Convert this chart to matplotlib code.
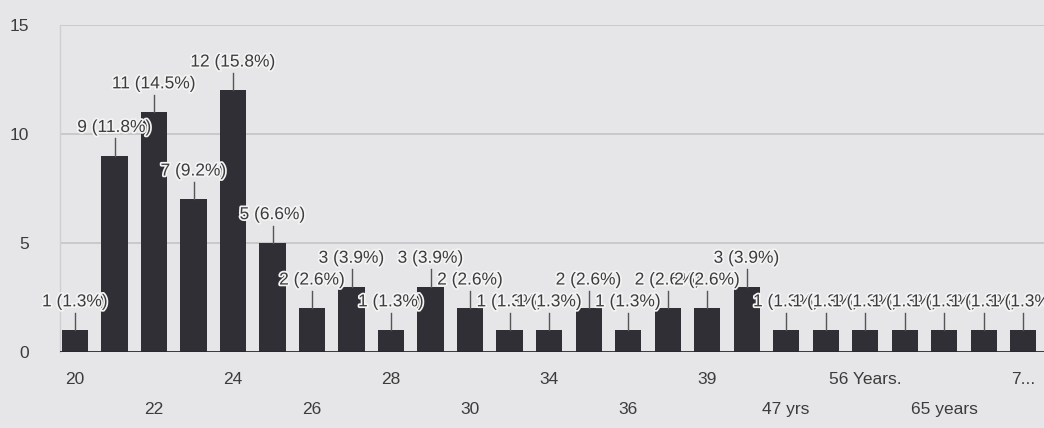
import matplotlib
matplotlib.use("Agg")
import matplotlib.pyplot as plt
import matplotlib.patheffects as pe

# Data
tick_labels = ["20", "22", "24", "26", "28", "30", "34", "36", "39",
               "47 yrs", "56 Years.", "65 years", "7..."]
counts = [1, 9, 11, 7, 12, 5, 2, 3, 1, 3, 2, 1, 1, 2, 1, 2, 2, 3,
          1, 1, 1, 1, 1, 1, 1]
total_responses = 76
y_ticks = [0, 5, 10, 15]

plt.rcParams['font.family'] = ['Liberation Sans', 'DejaVu Sans']

bg = "#e6e6e8"
txt = "#3c3c3c"
bar_col = "#2f2f35"

fig = plt.figure(figsize=(10.44, 4.28), dpi=100, facecolor=bg)
ax = fig.add_axes([60/1044, 76/428, (1044-60)/1044, (352-25)/428])
ax.set_facecolor(bg)

x = list(range(len(counts)))
ax.bar(x, counts, width=0.66, color=bar_col, zorder=3)

ax.set_xlim(-0.38, 24.53)
ax.set_ylim(0, 15)

# gridlines
for yv in y_ticks[1:]:
    ax.axhline(yv, color="#c4c4c6", lw=1.2, zorder=1)
ax.axhline(0, color="#2a2a2a", lw=2.0, zorder=4)

for s in ["top", "right", "bottom"]:
    ax.spines[s].set_visible(False)
ax.spines["left"].set_color("#cfcfd1")
ax.spines["left"].set_linewidth(1.0)

ax.set_yticks(y_ticks)
ax.set_yticklabels([str(v) for v in y_ticks], fontsize=12.5, color=txt)
ax.tick_params(axis="y", length=0, pad=22)

# x tick labels staggered in two rows
ax.set_xticks([])
for i, lab in enumerate(tick_labels):
    xpos = i * 2
    ypos = -1.25 if i % 2 == 0 else -2.65
    ax.text(xpos, ypos, lab, ha="center", va="center", fontsize=12.5,
            color=txt, clip_on=False)

# value labels with leader lines
halo = [pe.withStroke(linewidth=2.5, foreground="#f4f4f4")]
for xi, v in zip(x, counts):
    ax.plot([xi, xi], [v, v + 0.8], color="#555555", lw=1.0, zorder=5)
    pct = v / total_responses * 100
    ax.text(xi, v + 1.3, f"{v} ({pct:.1f}%)", ha="center", va="center",
            fontsize=12.5, color=txt, zorder=6, path_effects=halo,
            clip_on=False)

fig.savefig("out.png", dpi=100, facecolor=bg)
